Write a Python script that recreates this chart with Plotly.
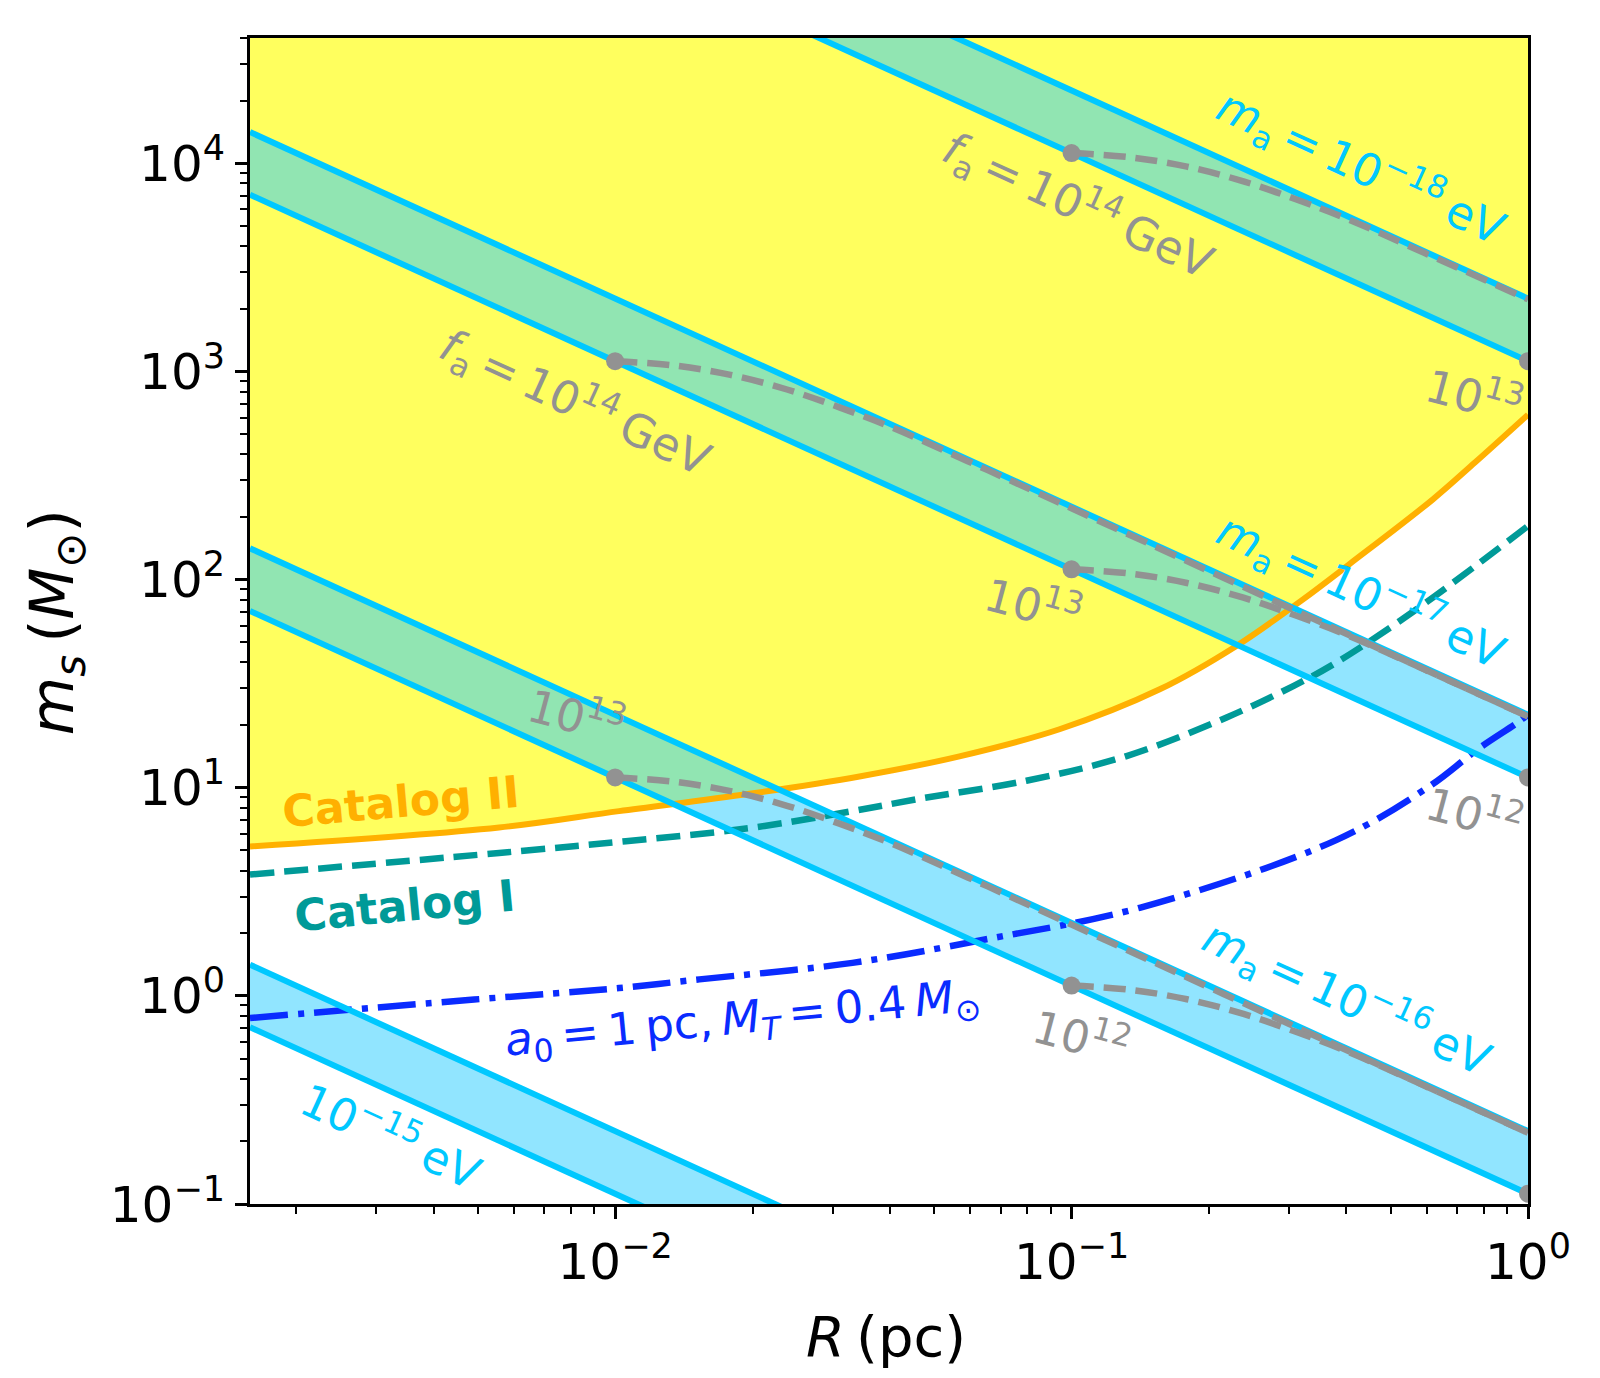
import numpy as np
import plotly.graph_objects as go

# ---------------- data ----------------
R_MIN = 0.001585
R_band = [0.001585, 1.0]
# bands labelled by axion mass m_a (eV): upper / lower edges at R_band
band_names = ["1e-18", "1e-17", "1e-16", "1e-15"]
band_upper = [[1.413e6, 2240.0], [14130.0, 22.4], [141.3, 0.224], [1.413, 0.00224]]
band_lower = [[7.066e5, 1120.0], [7066.0, 11.2], [70.66, 0.112], [0.7066, 0.00112]]

# Catalog II (orange, boundary of the yellow region)
cat2_R = [0.001585, 0.00557, 0.0102, 0.0197, 0.0343, 0.0568, 0.0941, 0.156, 0.2297, 0.3215,
          0.407, 0.619, 0.765, 1.0]
cat2_m = [5.22, 6.44, 7.72, 9.35, 11.33, 14.15, 19.1, 29.7, 48.0, 80.4,
          119.0, 243.0, 365.0, 620.0]

# Catalog I (teal dashed)
cat1_R = [0.001585, 0.00557, 0.01055, 0.0197, 0.0331, 0.0456, 0.0796, 0.132, 0.218, 0.306,
          0.380, 0.57, 1.0]
cat1_m = [3.83, 4.86, 5.53, 6.4, 7.72, 8.79, 10.8, 14.2, 21.7, 30.8,
          39.9, 72.0, 181.0]

# a0 = 1 pc, M_T = 0.4 Msun (blue dash-dot)
a0_R = [0.001585, 0.00491, 0.0102, 0.0153, 0.0331, 0.065, 0.141, 0.38, 0.61, 0.776, 0.95, 1.0]
a0_m = [0.783, 0.96, 1.09, 1.20, 1.44, 1.87, 2.65, 5.6, 10.2, 15.3, 20.6, 22.5]

# f_a tracks (gray dashed)
fa_curves_R = [
    [0.1, 0.134, 0.179, 0.238, 0.31, 0.4, 0.6, 1.0],
    [0.01, 0.0134, 0.0179, 0.0238, 0.031, 0.04, 0.06, 0.1, 0.3, 1.0],
    [0.1, 0.134, 0.179, 0.238, 0.31, 0.4, 0.6, 1.0],
    [0.01, 0.0134, 0.0179, 0.0238, 0.031, 0.04, 0.06, 0.1, 0.3, 1.0],
    [0.1, 0.134, 0.179, 0.238, 0.31, 0.4, 0.6, 1.0],
]
fa_curves_m = [
    [11200, 10700, 9640, 8190, 6720, 5430, 3670, 2220],
    [1120, 1070, 963, 819, 672, 543, 366, 220, 73.2, 22.0],
    [112, 107, 96.3, 81.9, 67.2, 54.3, 36.6, 22.0],
    [11.2, 10.7, 9.63, 8.19, 6.72, 5.43, 3.66, 2.20, 0.732, 0.220],
    [1.12, 1.07, 0.963, 0.819, 0.672, 0.543, 0.366, 0.220],
]
dots_R = [0.1, 1.0, 0.01, 0.1, 1.0, 0.01, 0.1, 1.0]
dots_m = [11200, 1120, 1120, 112, 11.2, 11.2, 1.12, 0.112]

x_tickvals = [0.01, 0.1, 1.0]
x_ticktext = ["10<sup>−2</sup>", "10<sup>−1</sup>", "10<sup>0</sup>"]
y_tickvals = [0.1, 1, 10, 100, 1000, 10000]
y_ticktext = ["10<sup>−1</sup>", "10<sup>0</sup>", "10<sup>1</sup>", "10<sup>2</sup>",
              "10<sup>3</sup>", "10<sup>4</sup>"]

# ---------------- styling ----------------
FONT = "DejaVu Sans"
YELLOW = "#FFFF5E"
ORANGE = "#FFB000"
TEAL = "#009A98"
BLUE = "#0A2BFF"
CYAN = "#00C8FF"
BANDFILL = "rgba(45,205,255,0.52)"
GRAY = "#929292"
Y_TOP = 1e5
TS = "\u2009"  # thin space

fig = go.Figure()

# yellow excluded region above Catalog II
fig.add_trace(go.Scatter(x=[R_MIN, 1.0], y=[Y_TOP, Y_TOP], mode="lines",
                         line=dict(width=0, color=YELLOW), showlegend=False, hoverinfo="skip"))
fig.add_trace(go.Scatter(x=cat2_R, y=cat2_m, mode="lines", fill="tonexty", fillcolor=YELLOW,
                         line=dict(width=0, color=ORANGE, shape="spline"),
                         showlegend=False, hoverinfo="skip"))

# band fills
for up, lo in zip(band_upper, band_lower):
    fig.add_trace(go.Scatter(x=R_band + R_band[::-1], y=up + lo[::-1], mode="lines",
                             fill="toself", fillcolor=BANDFILL, line=dict(width=0),
                             showlegend=False, hoverinfo="skip"))

# catalog curves
fig.add_trace(go.Scatter(x=cat2_R, y=cat2_m, mode="lines",
                         line=dict(width=6, color=ORANGE, shape="spline"), showlegend=False))
fig.add_trace(go.Scatter(x=cat1_R, y=cat1_m, mode="lines",
                         line=dict(width=6.5, color=TEAL, shape="spline", dash="24px,10px"),
                         showlegend=False))
fig.add_trace(go.Scatter(x=a0_R, y=a0_m, mode="lines",
                         line=dict(width=6.5, color=BLUE, shape="spline", dash="38px,10px,6px,10px"),
                         showlegend=False))

# band edges
for up, lo in zip(band_upper, band_lower):
    for yy in (up, lo):
        fig.add_trace(go.Scatter(x=R_band, y=yy, mode="lines",
                                 line=dict(width=6, color=CYAN), showlegend=False))

# f_a tracks
for rr, mm in zip(fa_curves_R, fa_curves_m):
    fig.add_trace(go.Scatter(x=rr, y=mm, mode="lines",
                             line=dict(width=6.5, color=GRAY, shape="spline", dash="22px,10px"),
                             showlegend=False))
fig.add_trace(go.Scatter(x=dots_R, y=dots_m, mode="markers",
                         marker=dict(size=18, color=GRAY), showlegend=False))

# ---------------- annotations ----------------
def ann(text, lx, ly, color, size=45, angle=0):
    fig.add_annotation(x=lx, y=ly, xref="x", yref="y", text=text, showarrow=False,
                       textangle=angle, xanchor="center", yanchor="middle",
                       font=dict(family=FONT, size=size, color=color))

ma = "<i>m</i><sub>a</sub>" + TS + "=" + TS + "10<sup>−%s</sup>" + TS + "eV"
fa = "<i>f</i><sub>a</sub>" + TS + "=" + TS + "10<sup>14</sup>" + TS + "GeV"
ann(ma % "18", -0.366, 3.982, CYAN, angle=24.5)
ann(ma % "17", -0.366, 1.944, CYAN, angle=24.5)
ann(ma % "16", -0.397, -0.008, CYAN, angle=24.5)
ann("10<sup>−15</sup>" + TS + "eV", -2.489, -0.666, CYAN, angle=24.5)
ann(fa, -0.985, 3.80, GRAY, angle=24.5)
ann(fa, -2.087, 2.852, GRAY, angle=24.5)
ann("10<sup>13</sup>", -0.117, 2.891, GRAY, angle=15)
ann("10<sup>13</sup>", -1.083, 1.886, GRAY, angle=15)
ann("10<sup>12</sup>", -0.117, 0.881, GRAY, angle=15)
ann("10<sup>13</sup>", -2.084, 1.352, GRAY, angle=15)
ann("10<sup>12</sup>", -0.978, -0.191, GRAY, angle=15)
ann("<b>Catalog II</b>", -2.469, 0.934, ORANGE, size=44, angle=-5)
ann("<b>Catalog I</b>", -2.461, 0.434, TEAL, size=44, angle=-5.5)
ann("<i>a</i><sub>0</sub>" + TS + "=" + TS + "1" + TS + "pc," + TS + "<i>M</i><sub><i>T</i></sub>"
    + TS + "=" + TS + "0.4" + TS + "<i>M</i><sub>⊙</sub>",
    -1.721, -0.114, BLUE, angle=-5.5)

# axis titles
fig.add_annotation(x=0.4977, y=-0.114, xref="paper", yref="paper", text="<i>R</i>" + TS + "(pc)",
                   showarrow=False, xanchor="center", yanchor="middle",
                   font=dict(family=FONT, size=56, color="black"))
fig.add_annotation(x=-0.1518, y=0.499, xref="paper", yref="paper",
                   text="<i>m</i><sub><i>s</i></sub>" + TS + "(<i>M</i><sub>⊙</sub>)",
                   showarrow=False, textangle=-90, xanchor="center", yanchor="middle",
                   font=dict(family=FONT, size=60, color="black"))

x_minor = [k * 10.0 ** e for e in (-3, -2, -1) for k in range(2, 10) if k * 10.0 ** e >= R_MIN]
y_minor = [k * 10.0 ** e for e in (-1, 0, 1, 2, 3, 4) for k in range(2, 10) if k * 10.0 ** e <= 4e4]

axis_common = dict(type="log", showgrid=False, zeroline=False, showline=True, linewidth=3,
                   linecolor="black", mirror=True, ticks="outside", ticklen=12, tickwidth=3,
                   tickcolor="black", tickmode="array",
                   tickfont=dict(family=FONT, size=50, color="black"))

fig.update_layout(
    width=1600, height=1378,
    margin=dict(l=250, r=72, t=38, b=174),
    paper_bgcolor="white", plot_bgcolor="white",
    showlegend=False,
    xaxis=dict(range=[np.log10(R_MIN), 0], tickvals=x_tickvals, ticktext=x_ticktext,
               minor=dict(tickmode="array", tickvals=x_minor, ticks="outside", ticklen=7,
                          tickwidth=2, tickcolor="black", showgrid=False),
               **axis_common),
    yaxis=dict(range=[-1, np.log10(4e4)], tickvals=y_tickvals, ticktext=y_ticktext,
               minor=dict(tickmode="array", tickvals=y_minor, ticks="outside", ticklen=7,
                          tickwidth=2, tickcolor="black", showgrid=False),
               **axis_common),
)

fig.write_html("out.html")
